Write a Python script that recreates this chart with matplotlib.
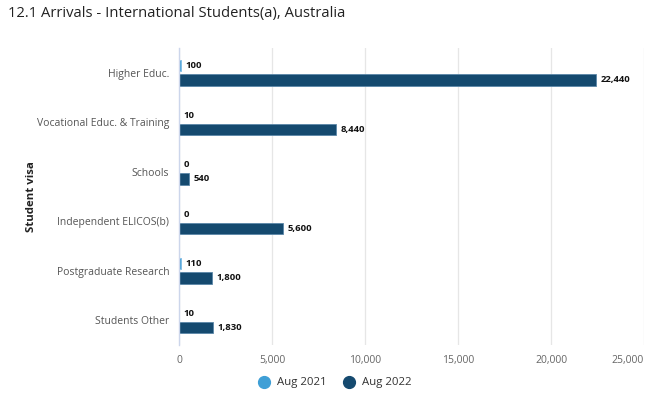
import numpy as np
import matplotlib as mpl
mpl.use('Agg')
import matplotlib.pyplot as plt
from matplotlib.lines import Line2D

plt.rcParams['font.family'] = ['Open Sans', 'DejaVu Sans']

categories = ["Higher Educ.", "Vocational Educ. & Training", "Schools",
              "Independent ELICOS(b)", "Postgraduate Research", "Students Other"]
aug_2021 = [100, 10, 0, 0, 110, 10]
aug_2022 = [22440, 8440, 540, 5600, 1800, 1830]
xticks = [0, 5000, 10000, 15000, 20000, 25000]

c21 = "#3f9fd6"
c22 = "#154a6f"

fig = plt.figure(figsize=(6.5, 4.0), dpi=100)
ax = fig.add_axes([179/650, 1 - 345/400, (644-179)/650, (345-48)/400])

y = np.arange(len(categories))
h = 0.23
off = 0.145
ax.barh(y - off, aug_2021, height=h, color=c21, edgecolor="#7fbde6", linewidth=0.6, zorder=3)
ax.barh(y + off, aug_2022, height=h, color=c22, edgecolor="#5b87a8", linewidth=0.6, zorder=3)

for yi, v in zip(y, aug_2021):
    ax.annotate(f"{v:,}", (v, yi - off), xytext=(3, 0), textcoords="offset points",
                va="center", ha="left", fontsize=6.8, fontweight="bold", color="#111111")
for yi, v in zip(y, aug_2022):
    ax.annotate(f"{v:,}", (v, yi + off), xytext=(3, 0), textcoords="offset points",
                va="center", ha="left", fontsize=6.8, fontweight="bold", color="#111111")

ax.set_ylim(len(categories) - 0.5, -0.5)
ax.set_xlim(0, 25000)
ax.set_yticks(y)
ax.set_yticklabels(categories, fontsize=7.5, color="#555555")
ax.set_xticks(xticks)
xl = ax.set_xticklabels([f"{t:,}" for t in xticks], fontsize=7.5, color="#666666")
xl[-1].set_horizontalalignment("right")
ax.tick_params(axis="both", length=0, pad=7)
ax.grid(axis="x", color="#e6e6e6", linewidth=0.9, zorder=0)
for s in ["top", "right", "bottom"]:
    ax.spines[s].set_visible(False)
ax.spines["left"].set_color("#ccd6eb")
ax.spines["left"].set_linewidth(1.0)
ax.spines["left"].set_zorder(4)

ax.set_ylabel("Student visa", fontsize=8.2, fontweight="bold", color="#222222")
ax.yaxis.set_label_coords(-142/465, 0.5)

fig.text(8/650, 1 - 14/400, "12.1 Arrivals - International Students(a), Australia",
         fontsize=10.6, color="#222222", va="center", ha="left")

handles = [Line2D([], [], marker="o", linestyle="", markersize=8.5, color=c21),
           Line2D([], [], marker="o", linestyle="", markersize=8.5, color=c22)]
fig.legend(handles, ["Aug 2021", "Aug 2022"], loc="center", bbox_to_anchor=(332/650, 1 - 383/400),
           ncol=2, frameon=False, fontsize=8.2, handletextpad=0.1, columnspacing=1.0,
           labelcolor="#333333")

fig.savefig("out.png", dpi=100)
